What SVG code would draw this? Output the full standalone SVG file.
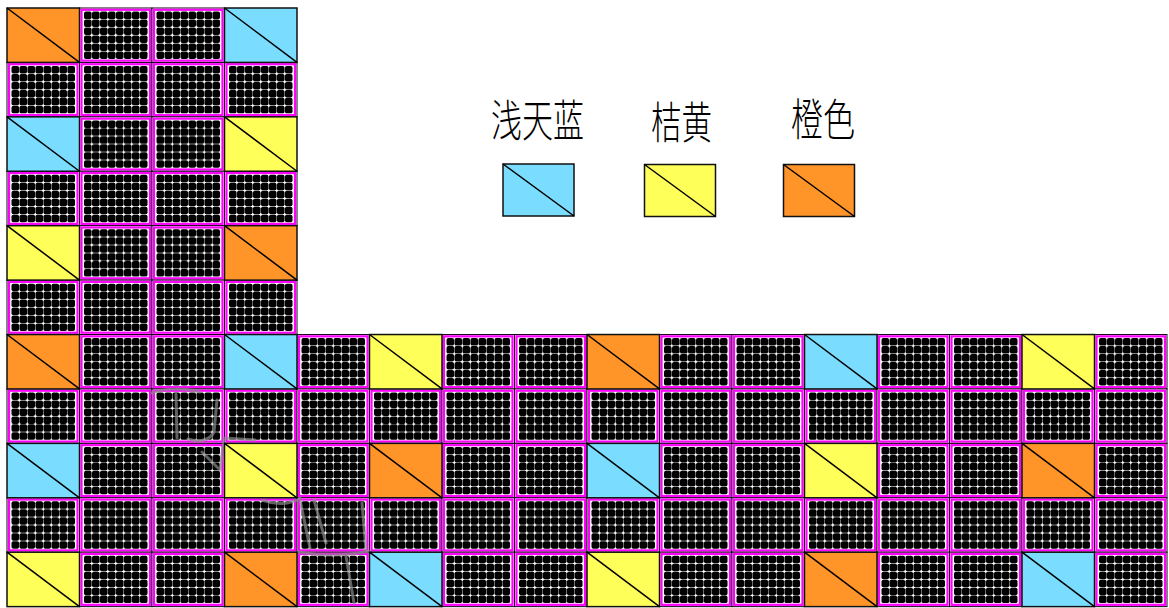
<svg xmlns="http://www.w3.org/2000/svg" xmlns:xlink="http://www.w3.org/1999/xlink" width="1169" height="608" viewBox="0 0 1169 608">
<style>
.cb{fill:#fff;stroke:#1a001a;stroke-width:1}
.mg{fill:none;stroke:#ff00ff;stroke-width:2.2}
.cc{stroke:#111;stroke-width:1.5}
.dg{stroke:#000;stroke-width:1.5}
.o{fill:#ff9429}
.b{fill:#7addff}
.y{fill:#ffff59}
.lbl{font-family:"Noto Sans CJK SC","Noto Sans CJK JP",sans-serif;font-size:44px;font-weight:200;fill:#000}
.wm{fill:none;stroke:#8a8a8a;stroke-width:3;stroke-linecap:round;opacity:0.7}
</style>
<defs>
<rect id="dot" width="7.6" height="7.5" rx="1.9" fill="#000"/>
<g id="row">
<use href="#dot" x="4.5"/><use href="#dot" x="12.49"/><use href="#dot" x="20.48"/><use href="#dot" x="28.47"/>
<use href="#dot" x="36.46"/><use href="#dot" x="44.45"/><use href="#dot" x="52.44"/><use href="#dot" x="60.43"/>
</g>
<g id="dcell">
<rect class="cb" width="72.5" height="54.42"/>
<rect class="mg" x="2" y="1.8" width="68.5" height="50.82"/>
<use href="#row" y="3.55"/><use href="#row" y="11.52"/><use href="#row" y="19.49"/>
<use href="#row" y="27.46"/><use href="#row" y="35.43"/><use href="#row" y="43.4"/>
</g>
<g id="ccell">
<rect class="cc" width="72.5" height="54.42"/>
<line class="dg" x1="0" y1="0" x2="72.5" y2="54.42"/>
</g>
</defs>
<rect width="1169" height="608" fill="#fff"/>
<g id="dot-cells">
<use href="#dcell" x="79.5" y="8"/><use href="#dcell" x="152" y="8"/>
<use href="#dcell" x="7" y="62.42"/><use href="#dcell" x="79.5" y="62.42"/><use href="#dcell" x="152" y="62.42"/><use href="#dcell" x="224.5" y="62.42"/>
<use href="#dcell" x="79.5" y="116.84"/><use href="#dcell" x="152" y="116.84"/>
<use href="#dcell" x="7" y="171.26"/><use href="#dcell" x="79.5" y="171.26"/><use href="#dcell" x="152" y="171.26"/><use href="#dcell" x="224.5" y="171.26"/>
<use href="#dcell" x="79.5" y="225.68"/><use href="#dcell" x="152" y="225.68"/>
<use href="#dcell" x="7" y="280.1"/><use href="#dcell" x="79.5" y="280.1"/><use href="#dcell" x="152" y="280.1"/><use href="#dcell" x="224.5" y="280.1"/>
<use href="#dcell" x="79.5" y="334.52"/><use href="#dcell" x="152" y="334.52"/><use href="#dcell" x="297" y="334.52"/>
<use href="#dcell" x="442" y="334.52"/><use href="#dcell" x="514.5" y="334.52"/><use href="#dcell" x="659.5" y="334.52"/><use href="#dcell" x="732" y="334.52"/>
<use href="#dcell" x="877" y="334.52"/><use href="#dcell" x="949.5" y="334.52"/><use href="#dcell" x="1094.5" y="334.52"/>
<use href="#dcell" x="7" y="388.94"/><use href="#dcell" x="79.5" y="388.94"/><use href="#dcell" x="152" y="388.94"/><use href="#dcell" x="224.5" y="388.94"/>
<use href="#dcell" x="297" y="388.94"/><use href="#dcell" x="369.5" y="388.94"/><use href="#dcell" x="442" y="388.94"/><use href="#dcell" x="514.5" y="388.94"/>
<use href="#dcell" x="587" y="388.94"/><use href="#dcell" x="659.5" y="388.94"/><use href="#dcell" x="732" y="388.94"/><use href="#dcell" x="804.5" y="388.94"/>
<use href="#dcell" x="877" y="388.94"/><use href="#dcell" x="949.5" y="388.94"/><use href="#dcell" x="1022" y="388.94"/><use href="#dcell" x="1094.5" y="388.94"/>
<use href="#dcell" x="79.5" y="443.36"/><use href="#dcell" x="152" y="443.36"/><use href="#dcell" x="297" y="443.36"/>
<use href="#dcell" x="442" y="443.36"/><use href="#dcell" x="514.5" y="443.36"/><use href="#dcell" x="659.5" y="443.36"/><use href="#dcell" x="732" y="443.36"/>
<use href="#dcell" x="877" y="443.36"/><use href="#dcell" x="949.5" y="443.36"/><use href="#dcell" x="1094.5" y="443.36"/>
<use href="#dcell" x="7" y="497.78"/><use href="#dcell" x="79.5" y="497.78"/><use href="#dcell" x="152" y="497.78"/><use href="#dcell" x="224.5" y="497.78"/>
<use href="#dcell" x="297" y="497.78"/><use href="#dcell" x="369.5" y="497.78"/><use href="#dcell" x="442" y="497.78"/><use href="#dcell" x="514.5" y="497.78"/>
<use href="#dcell" x="587" y="497.78"/><use href="#dcell" x="659.5" y="497.78"/><use href="#dcell" x="732" y="497.78"/><use href="#dcell" x="804.5" y="497.78"/>
<use href="#dcell" x="877" y="497.78"/><use href="#dcell" x="949.5" y="497.78"/><use href="#dcell" x="1022" y="497.78"/><use href="#dcell" x="1094.5" y="497.78"/>
<use href="#dcell" x="79.5" y="552.2"/><use href="#dcell" x="152" y="552.2"/><use href="#dcell" x="297" y="552.2"/>
<use href="#dcell" x="442" y="552.2"/><use href="#dcell" x="514.5" y="552.2"/><use href="#dcell" x="659.5" y="552.2"/><use href="#dcell" x="732" y="552.2"/>
<use href="#dcell" x="877" y="552.2"/><use href="#dcell" x="949.5" y="552.2"/><use href="#dcell" x="1094.5" y="552.2"/>
</g>
<g id="watermark">
<path class="wm" d="M152,393 C165,388 185,388 200,392"/>
<path class="wm" d="M176,394 L177,438"/>
<path class="wm" d="M188,439 C200,443 210,440 214,432 L217,400"/>
<path class="wm" d="M224,440 L220,470"/>
<path class="wm" d="M224,438 L255,440"/>
<path class="wm" d="M202,452 L218,468"/>
<path class="wm" d="M262,500 C275,505 290,505 300,498"/>
<path class="wm" d="M300,500 L310,548"/>
<path class="wm" d="M314,500 L326,543"/>
<path class="wm" d="M298,552 C320,556 345,556 370,551"/>
<path class="wm" d="M362,503 L366,550"/>
<path class="wm" d="M346,556 L354,603"/>
</g>
<g id="color-cells">
<use href="#ccell" class="o" x="7" y="8"/><use href="#ccell" class="b" x="224.5" y="8"/>
<use href="#ccell" class="b" x="7" y="116.84"/><use href="#ccell" class="y" x="224.5" y="116.84"/>
<use href="#ccell" class="y" x="7" y="225.68"/><use href="#ccell" class="o" x="224.5" y="225.68"/>
<use href="#ccell" class="o" x="7" y="334.52"/><use href="#ccell" class="b" x="224.5" y="334.52"/><use href="#ccell" class="y" x="369.5" y="334.52"/>
<use href="#ccell" class="o" x="587" y="334.52"/><use href="#ccell" class="b" x="804.5" y="334.52"/><use href="#ccell" class="y" x="1022" y="334.52"/>
<use href="#ccell" class="b" x="7" y="443.36"/><use href="#ccell" class="y" x="224.5" y="443.36"/><use href="#ccell" class="o" x="369.5" y="443.36"/>
<use href="#ccell" class="b" x="587" y="443.36"/><use href="#ccell" class="y" x="804.5" y="443.36"/><use href="#ccell" class="o" x="1022" y="443.36"/>
<use href="#ccell" class="y" x="7" y="552.2"/><use href="#ccell" class="o" x="224.5" y="552.2"/><use href="#ccell" class="b" x="369.5" y="552.2"/>
<use href="#ccell" class="y" x="587" y="552.2"/><use href="#ccell" class="o" x="804.5" y="552.2"/><use href="#ccell" class="b" x="1022" y="552.2"/>
</g>
<g id="legend-skyblue">
<text class="lbl" x="491" y="137" textLength="93" lengthAdjust="spacingAndGlyphs">浅天蓝</text>
<rect class="cc b" x="503" y="164" width="71" height="52"/>
<line class="dg" x1="503" y1="164" x2="574" y2="216"/>
</g>
<g id="legend-yellow">
<text class="lbl" x="651" y="139" textLength="61" lengthAdjust="spacingAndGlyphs">桔黄</text>
<rect class="cc y" x="644.5" y="164.5" width="71" height="52"/>
<line class="dg" x1="644.5" y1="164.5" x2="715.5" y2="216.5"/>
</g>
<g id="legend-orange">
<text class="lbl" x="791" y="136" textLength="64" lengthAdjust="spacingAndGlyphs">橙色</text>
<rect class="cc o" x="783.5" y="164.5" width="71" height="52"/>
<line class="dg" x1="783.5" y1="164.5" x2="854.5" y2="216.5"/>
</g>
</svg>
